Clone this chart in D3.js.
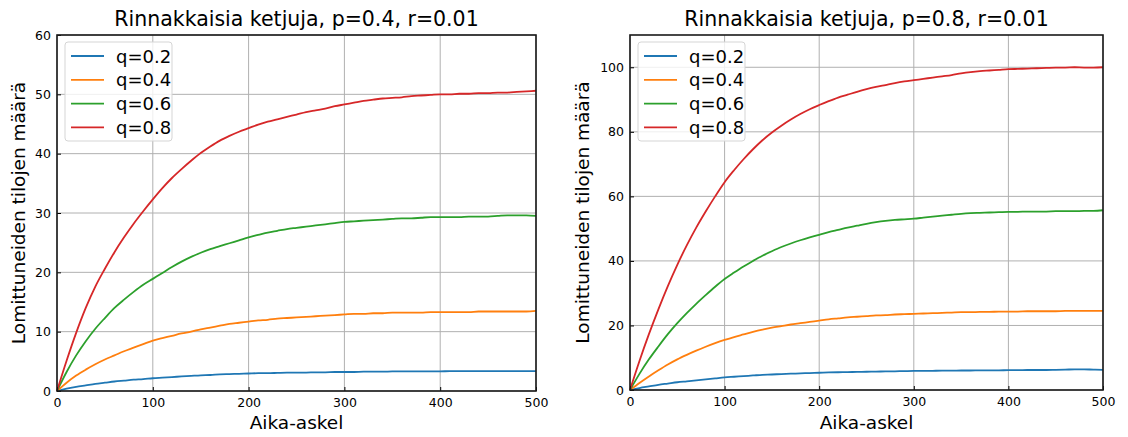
<!DOCTYPE html>
<html>
<head>
<meta charset="utf-8">
<script src="https://cdn.jsdelivr.net/npm/d3@7"></script>
<style>
  body { margin: 0; background: #fff; }
  text { font-family: "DejaVu Sans", sans-serif; fill: #000; }
</style>
</head>
<body>
<div id="chart"></div>
<script>
const width = 1128;
const height = 437;

// aika-askeleet 0..500 kymmenen välein
const steps = d3.range(0, 501, 10);
const qLabels = ['q=0.2', 'q=0.4', 'q=0.6', 'q=0.8'];
const colors = ['#1f77b4', '#ff7f0e', '#2ca02c', '#d62728'];
const xTicks = [0, 100, 200, 300, 400, 500];

// p=0.4
const leftQ02 = [0, 0.4, 0.7, 0.95, 1.2, 1.4, 1.6, 1.75, 1.9, 2.0, 2.15, 2.25, 2.35, 2.45, 2.55, 2.65, 2.7, 2.8, 2.85, 2.9, 2.95, 3.0, 3.0, 3.05, 3.1, 3.1, 3.1, 3.15, 3.15, 3.2, 3.2, 3.2, 3.25, 3.25, 3.25, 3.3, 3.3, 3.3, 3.3, 3.3, 3.3, 3.35, 3.35, 3.35, 3.35, 3.35, 3.35, 3.35, 3.35, 3.35, 3.35];
const leftQ04 = [0, 1.4, 2.6, 3.6, 4.5, 5.3, 6.0, 6.7, 7.3, 7.9, 8.5, 8.9, 9.3, 9.7, 10.0, 10.4, 10.7, 11.0, 11.3, 11.5, 11.7, 11.9, 12.0, 12.2, 12.3, 12.4, 12.5, 12.6, 12.7, 12.8, 12.9, 13.0, 13.0, 13.1, 13.1, 13.2, 13.2, 13.2, 13.2, 13.3, 13.3, 13.3, 13.3, 13.3, 13.4, 13.4, 13.4, 13.4, 13.4, 13.4, 13.5];
const leftQ06 = [0, 3.2, 6.0, 8.4, 10.5, 12.3, 14.0, 15.4, 16.7, 17.9, 18.9, 19.9, 20.9, 21.8, 22.6, 23.3, 23.9, 24.4, 24.9, 25.4, 25.9, 26.3, 26.7, 27.0, 27.3, 27.5, 27.7, 27.9, 28.1, 28.3, 28.5, 28.6, 28.7, 28.8, 28.9, 29.0, 29.1, 29.1, 29.2, 29.3, 29.3, 29.3, 29.3, 29.4, 29.4, 29.4, 29.5, 29.6, 29.6, 29.6, 29.5];
const leftQ08 = [0, 5.1, 9.8, 14.0, 17.6, 20.6, 23.4, 25.9, 28.2, 30.3, 32.3, 34.2, 35.9, 37.4, 38.8, 40.1, 41.2, 42.2, 43.0, 43.7, 44.3, 44.9, 45.4, 45.8, 46.2, 46.6, 47.0, 47.3, 47.6, 48.0, 48.3, 48.6, 48.9, 49.1, 49.3, 49.4, 49.5, 49.7, 49.8, 49.9, 50.0, 50.0, 50.1, 50.1, 50.2, 50.2, 50.3, 50.3, 50.4, 50.5, 50.6];

// p=0.8
const rightQ02 = [0, 0.6, 1.1, 1.6, 2.0, 2.4, 2.7, 3.0, 3.3, 3.6, 3.9, 4.1, 4.3, 4.5, 4.7, 4.8, 4.95, 5.05, 5.15, 5.25, 5.35, 5.45, 5.5, 5.55, 5.6, 5.65, 5.7, 5.75, 5.8, 5.85, 5.9, 5.9, 5.95, 6.0, 6.0, 6.05, 6.05, 6.1, 6.1, 6.1, 6.15, 6.15, 6.2, 6.2, 6.2, 6.25, 6.3, 6.4, 6.4, 6.3, 6.25];
const rightQ04 = [0, 2.2, 4.2, 6.1, 7.9, 9.5, 10.9, 12.2, 13.4, 14.5, 15.5, 16.4, 17.2, 18.0, 18.7, 19.3, 19.8, 20.3, 20.7, 21.1, 21.5, 21.9, 22.2, 22.5, 22.7, 22.9, 23.1, 23.2, 23.4, 23.5, 23.6, 23.7, 23.8, 23.9, 24.0, 24.1, 24.1, 24.2, 24.2, 24.3, 24.3, 24.3, 24.4, 24.4, 24.4, 24.4, 24.5, 24.5, 24.5, 24.5, 24.5];
const rightQ06 = [0, 5.0, 9.5, 13.5, 17.3, 20.7, 23.8, 26.7, 29.4, 32.0, 34.4, 36.4, 38.3, 40.0, 41.6, 43.0, 44.3, 45.4, 46.4, 47.3, 48.1, 48.9, 49.6, 50.3, 50.9, 51.5, 52.0, 52.4, 52.7, 52.9, 53.1, 53.4, 53.7, 54.0, 54.3, 54.6, 54.8, 54.9, 55.0, 55.1, 55.2, 55.2, 55.3, 55.3, 55.3, 55.4, 55.4, 55.4, 55.5, 55.5, 55.7];
const rightQ08 = [0, 9.0, 17.3, 25.0, 32.2, 38.8, 44.8, 50.3, 55.3, 60.0, 64.4, 68.1, 71.5, 74.6, 77.4, 79.8, 81.9, 83.8, 85.5, 87.0, 88.3, 89.5, 90.6, 91.5, 92.4, 93.2, 93.9, 94.5, 95.1, 95.6, 96.0, 96.4, 96.8, 97.2, 97.6, 98.1, 98.5, 98.8, 99.0, 99.2, 99.4, 99.5, 99.6, 99.7, 99.8, 99.9, 99.9, 100.0, 99.9, 99.9, 100.0];

const leftTicks = [0, 10, 20, 30, 40, 50, 60];
const rightTicks = [0, 20, 40, 60, 80, 100];

const svg = d3.select('#chart')
  .append('svg')
  .attr('width', width)
  .attr('height', height);

function drawPanel(opts) {
  const x = d3.scaleLinear().domain([0, 500]).range([opts.left, opts.right]);
  const y = d3.scaleLinear().domain(opts.yDomain).range([opts.bottom, opts.top]);
  const g = svg.append('g');

  // ruudukko
  g.selectAll('.vgrid')
    .data(xTicks)
    .enter()
    .append('line')
    .attr('x1', d => x(d)).attr('x2', d => x(d))
    .attr('y1', opts.top).attr('y2', opts.bottom)
    .attr('stroke', '#b0b0b0').attr('stroke-width', 1);
  g.selectAll('.hgrid')
    .data(opts.yTicks)
    .enter()
    .append('line')
    .attr('x1', opts.left).attr('x2', opts.right)
    .attr('y1', d => y(d)).attr('y2', d => y(d))
    .attr('stroke', '#b0b0b0').attr('stroke-width', 1);

  const line = d3.line()
    .x((d, i) => x(steps[i]))
    .y(d => y(d))
    .curve(d3.curveMonotoneX);

  opts.series.forEach((s, i) => {
    g.append('path')
      .datum(s)
      .attr('fill', 'none')
      .attr('stroke', colors[i])
      .attr('stroke-width', 1.8)
      .attr('stroke-linejoin', 'round')
      .attr('d', line);
  });

  // akselit, tikit sisäänpäin
  const xAxis = g.append('g')
    .attr('transform', `translate(0,${opts.bottom})`)
    .call(d3.axisBottom(x).tickValues(xTicks).tickSizeInner(-4).tickSizeOuter(0).tickPadding(7));
  const yAxis = g.append('g')
    .attr('transform', `translate(${opts.left},0)`)
    .call(d3.axisLeft(y).tickValues(opts.yTicks).tickSizeInner(-4).tickSizeOuter(0).tickPadding(6));
  [xAxis, yAxis].forEach(a => {
    a.select('.domain').remove();
    a.selectAll('text').style('font-size', '12.5px').style('font-family', '"DejaVu Sans", sans-serif');
    a.selectAll('line').attr('stroke', '#000').attr('stroke-width', 1);
  });

  g.append('rect')
    .attr('x', opts.left).attr('y', opts.top)
    .attr('width', opts.right - opts.left)
    .attr('height', opts.bottom - opts.top)
    .attr('fill', 'none')
    .attr('stroke', '#1a1a1a')
    .attr('stroke-width', 1.6);

  g.append('text')
    .attr('x', (opts.left + opts.right) / 2)
    .attr('y', 26)
    .attr('text-anchor', 'middle')
    .style('font-size', '20.5px')
    .text(opts.title);

  g.append('text')
    .attr('x', (opts.left + opts.right) / 2)
    .attr('y', 429)
    .attr('text-anchor', 'middle')
    .style('font-size', '18.5px')
    .text('Aika-askel');

  g.append('text')
    .attr('transform', `translate(${opts.ylabelX},${(opts.top + opts.bottom) / 2}) rotate(-90)`)
    .attr('text-anchor', 'middle')
    .style('font-size', '18.5px')
    .text('Lomittuneiden tilojen määrä');

  // selite
  const lg = g.append('g')
    .attr('transform', `translate(${opts.left + 8},${opts.top + 7})`);
  lg.append('rect')
    .attr('width', 107).attr('height', 99)
    .attr('rx', 3)
    .attr('fill', 'rgba(255,255,255,0.8)')
    .attr('stroke', '#d5d5d5');
  qLabels.forEach((lab, i) => {
    const yy = 14 + i * 23.8;
    lg.append('line')
      .attr('x1', 6).attr('x2', 39)
      .attr('y1', yy).attr('y2', yy)
      .attr('stroke', colors[i]).attr('stroke-width', 1.8);
    lg.append('text')
      .attr('x', 51).attr('y', yy + 6.5)
      .style('font-size', '18px')
      .text(lab);
  });
}

drawPanel({
  left: 57, right: 536, top: 35, bottom: 391,
  yDomain: [0, 60], yTicks: leftTicks, ylabelX: 25,
  title: 'Rinnakkaisia ketjuja, p=0.4, r=0.01',
  series: [leftQ02, leftQ04, leftQ06, leftQ08]
});

drawPanel({
  left: 630, right: 1103, top: 35, bottom: 390,
  yDomain: [0, 110], yTicks: rightTicks, ylabelX: 589,
  title: 'Rinnakkaisia ketjuja, p=0.8, r=0.01',
  series: [rightQ02, rightQ04, rightQ06, rightQ08]
});
</script>
</body>
</html>
